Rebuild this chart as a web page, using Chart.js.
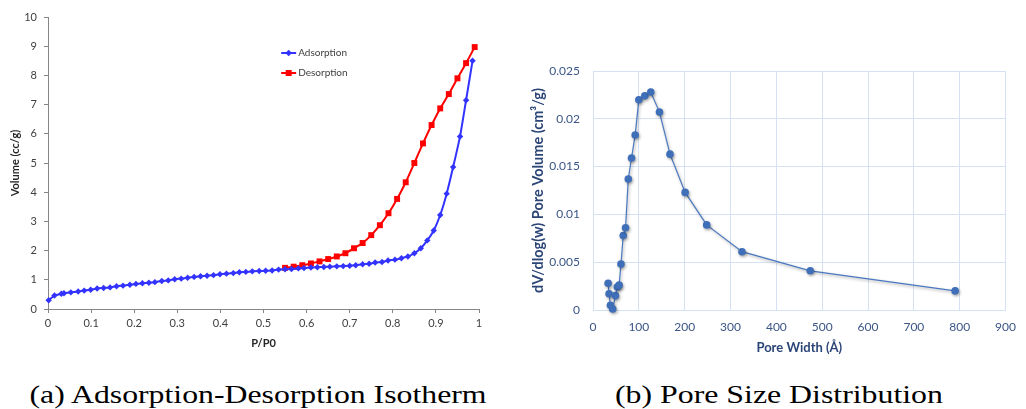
<!DOCTYPE html>
<html><head><meta charset="utf-8">
<script src="https://cdn.jsdelivr.net/npm/chart.js@4.4.1/dist/chart.umd.min.js"></script>
<style>
html,body{margin:0;padding:0;background:#fff;width:1026px;height:409px;overflow:hidden;position:relative;}
#c1{position:absolute;left:0;top:0;}
#c2{position:absolute;left:520px;top:0;}
.cap{position:absolute;top:382px;font-family:"Liberation Serif",serif;font-size:26px;line-height:26px;white-space:nowrap;color:#000;transform-origin:center top;}
</style></head><body>
<canvas id="c1" width="500" height="360"></canvas>
<canvas id="c2" width="506" height="360"></canvas>
<div class="cap" id="capA">(a) Adsorption-Desorption Isotherm</div>
<div class="cap" id="capB">(b) Pore Size Distribution</div>
<script>
// ---------- Data: (a) isotherm ----------
const adsP = [0.0015,0.015,0.031,0.037,0.053,0.070,0.084,0.099,0.114,0.129,0.144,0.159,0.174,0.190,0.204,0.219,0.234,0.248,0.264,0.279,0.294,0.309,0.324,0.339,0.354,0.369,0.384,0.399,0.414,0.430,0.444,0.459,0.474,0.490,0.505,0.520,0.535,0.550,0.565,0.581,0.594,0.610,0.625,0.640,0.654,0.670,0.685,0.700,0.714,0.730,0.745,0.759,0.775,0.789,0.805,0.820,0.835,0.850,0.865,0.880,0.895,0.910,0.925,0.940,0.956,0.970,0.985];
const adsV = [0.30,0.46,0.52,0.54,0.57,0.60,0.63,0.66,0.70,0.72,0.74,0.78,0.80,0.83,0.86,0.88,0.90,0.92,0.96,0.98,1.02,1.04,1.07,1.10,1.12,1.14,1.16,1.19,1.21,1.23,1.26,1.27,1.29,1.30,1.31,1.32,1.35,1.36,1.37,1.39,1.40,1.42,1.43,1.44,1.45,1.46,1.47,1.48,1.50,1.53,1.55,1.59,1.61,1.66,1.69,1.74,1.80,1.91,2.08,2.35,2.69,3.22,3.95,4.86,5.91,7.15,8.50];
const desP = [0.55,0.57,0.59,0.61,0.63,0.65,0.67,0.69,0.71,0.73,0.75,0.77,0.79,0.81,0.83,0.85,0.87,0.89,0.91,0.93,0.95,0.97,0.99];
const desV = [1.41,1.45,1.50,1.56,1.63,1.71,1.80,1.91,2.08,2.26,2.53,2.87,3.28,3.77,4.34,5.00,5.67,6.30,6.87,7.36,7.90,8.42,8.97];
const isoXTicks = ['0','0.1','0.2','0.3','0.4','0.5','0.6','0.7','0.8','0.9','1'];
const isoYTicks = ['0','1','2','3','4','5','6','7','8','9','10'];
const seriesNames = ['Adsorption','Desorption'];

// ---------- Data: (b) pore size distribution ----------
const poreWidth = [33,35,38,43,49,53,57,61,66,71,77,84,92,100,113,126,145,168,201,248,325,474,790];
const poreVolume = [0.0028,0.0017,0.0005,0.0001,0.0015,0.0024,0.0026,0.0048,0.0078,0.0086,0.0137,0.0159,0.0183,0.0220,0.0224,0.0228,0.0207,0.0163,0.0123,0.0089,0.0061,0.0041,0.0020];
const psdXTicks = ['0','100','200','300','400','500','600','700','800','900'];
const psdYTicks = ['0','0.005','0.01','0.015','0.02','0.025'];

const toPts = (xs, ys) => xs.map((x, i) => ({x, y: ys[i]}));

// ---------- Chart (a) ----------
const BLUE = '#3333ff', RED = '#ff0000';
const legendPlugin = {
  id: 'inlineLegend',
  afterDraw(chart) {
    const {ctx, chartArea: a} = chart;
    const x0 = a.left + 0.541 * (a.right - a.left);
    const rows = [a.top + 36, a.top + 56];
    chart.data.datasets.forEach((ds, i) => {
      const y = rows[i];
      ctx.save();
      ctx.strokeStyle = ds.borderColor; ctx.lineWidth = 2;
      ctx.beginPath(); ctx.moveTo(x0, y); ctx.lineTo(x0 + 15, y); ctx.stroke();
      ctx.fillStyle = ds.backgroundColor;
      ctx.beginPath();
      if (ds.pointStyle === 'rect') { ctx.rect(x0 + 4.5, y - 3, 6, 6); }
      else { ctx.moveTo(x0 + 7.5, y - 3.3); ctx.lineTo(x0 + 10.8, y); ctx.lineTo(x0 + 7.5, y + 3.3); ctx.lineTo(x0 + 4.2, y); ctx.closePath(); }
      ctx.fill();
      ctx.fillStyle = '#404040';
      ctx.font = '10px Lato';
      ctx.textBaseline = 'middle';
      ctx.fillText(ds.label, x0 + 17, y);
      ctx.restore();
    });
  }
};

new Chart(document.getElementById('c1'), {
  type: 'scatter',
  data: {
    datasets: [
      {label: seriesNames[0], data: toPts(adsP, adsV), showLine: true, borderColor: BLUE, backgroundColor: BLUE,
       borderWidth: 2, pointStyle: 'rectRot', pointRadius: 3.2, pointBorderWidth: 0, tension: 0.2, clip: false},
      {label: seriesNames[1], data: toPts(desP, desV), showLine: true, borderColor: RED, backgroundColor: RED,
       borderWidth: 2, pointStyle: 'rect', pointRadius: 4.2, pointBorderWidth: 0, tension: 0.2, clip: false}
    ]
  },
  options: {
    responsive: false, animation: false, devicePixelRatio: 1,
    layout: {padding: {top: 17, right: 21, left: 0, bottom: 0}},
    plugins: {legend: {display: false}, tooltip: {enabled: false}},
    scales: {
      x: {
        type: 'linear', min: 0, max: 1,
        afterFit: s => { s.height = 51; },
        ticks: {stepSize: 0.1, padding: 4, color: '#404040', font: {family: 'Lato', size: 11},
                callback: (v, i) => isoXTicks[i], maxRotation: 0, autoSkip: false},
        grid: {drawOnChartArea: false, drawTicks: true, tickLength: 4, color: '#868686'},
        border: {color: '#868686', width: 1},
        title: {display: true, text: 'P/P0', color: '#262626', font: {family: 'Lato', size: 11, weight: 'bold'}, padding: {top: 0, bottom: 10}}
      },
      y: {
        min: 0, max: 10,
        afterFit: s => { s.width = 48; },
        ticks: {stepSize: 1, padding: 7, color: '#404040', font: {family: 'Lato', size: 11},
                callback: (v, i) => isoYTicks[i], autoSkip: false},
        grid: {drawOnChartArea: false, drawTicks: true, tickLength: 4, color: '#868686'},
        border: {color: '#868686', width: 1},
        title: {display: true, text: 'Volume (cc/g)', color: '#262626', font: {family: 'Lato', size: 11, weight: 'bold'}, padding: {top: 9, bottom: 0}}
      }
    }
  },
  plugins: [legendPlugin]
});

// ---------- Chart (b) ----------
const PBLUE = '#3f6fb8';
const shadowPlugin = {
  id: 'shadow',
  beforeDatasetsDraw(chart) { const c = chart.ctx; c.save(); c.shadowColor = 'rgba(0,0,0,0.35)'; c.shadowBlur = 3; c.shadowOffsetX = 1; c.shadowOffsetY = 1.5; },
  afterDatasetsDraw(chart) { chart.ctx.restore(); }
};
const TICK = '#3b5686', TITLE = '#2b4577', GRID = '#d6e2f3';
new Chart(document.getElementById('c2'), {
  type: 'scatter',
  data: {datasets: [{data: toPts(poreWidth, poreVolume), showLine: true, borderColor: '#4a78c0', borderWidth: 1.2,
    backgroundColor: PBLUE, pointBorderColor: PBLUE, pointRadius: 3.8, pointBorderWidth: 0, tension: 0, clip: false}]},
  options: {
    responsive: false, animation: false, devicePixelRatio: 1,
    layout: {padding: {top: 71, right: 11, left: 0, bottom: 0}},
    plugins: {legend: {display: false}, tooltip: {enabled: false}},
    scales: {
      x: {
        type: 'linear', min: 0, max: 900,
        afterFit: s => { s.height = 50; },
        ticks: {stepSize: 100, padding: 10, color: TICK, font: {family: 'Lato', size: 12},
                callback: (v, i) => psdXTicks[i], maxRotation: 0, autoSkip: false},
        grid: {color: GRID, drawTicks: false, lineWidth: 1},
        border: {color: GRID, width: 1},
        title: {display: true, text: 'Pore Width (Å)', color: TITLE, font: {family: 'Lato', size: 13, weight: 'bold'}, padding: {top: 0, bottom: 4}}
      },
      y: {
        min: 0, max: 0.025,
        afterFit: s => { s.width = 73; },
        ticks: {stepSize: 0.005, padding: 13, color: TICK, font: {family: 'Lato', size: 12},
                callback: (v, i) => psdYTicks[i], autoSkip: false},
        grid: {color: GRID, drawTicks: false, lineWidth: 1},
        border: {color: GRID, width: 1},
        title: {display: true, text: 'dV/dlog(w) Pore Volume (cm³/g)', color: TITLE, font: {family: 'Lato', size: 14.5, weight: 'bold'}, padding: {top: 10, bottom: 0}}
      }
    }
  },
  plugins: [shadowPlugin]
});

// ---------- Captions ----------
function fitCaption(id, cx, targetW) {
  const el = document.getElementById(id);
  const w = el.getBoundingClientRect().width;
  el.style.left = (cx - w / 2) + 'px';
  el.style.transform = 'scaleX(' + (targetW / w) + ')';
}
fitCaption('capA', 258.5, 457);
fitCaption('capB', 779, 328);
</script>
</body></html>
